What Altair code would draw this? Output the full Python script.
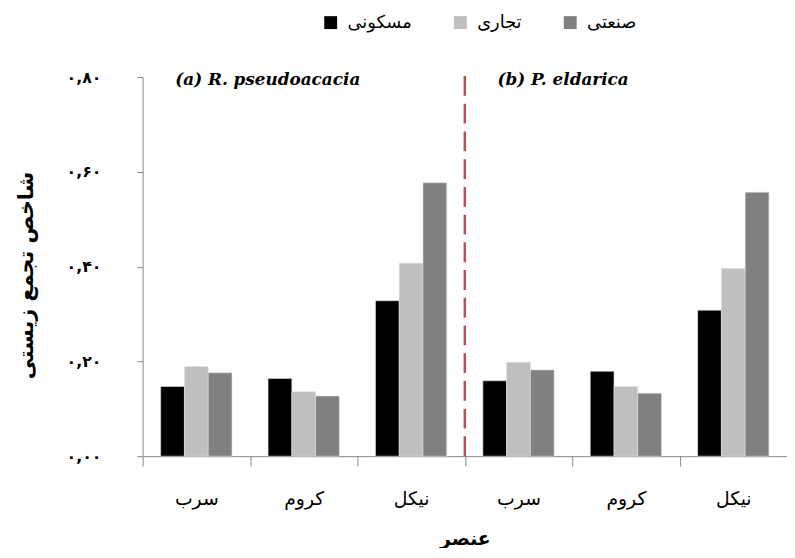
import altair as alt
import pandas as pd

# ---------------- data ----------------
panels = ["a", "b"]
elements = ["سرب", "کروم", "نیکل"]
series = ["مسکونی", "تجاری", "صنعتی"]
colors = ["#000000", "#BFBFBF", "#808080"]

a_maskouni = [0.147, 0.164, 0.328]
a_tejari = [0.189, 0.136, 0.407]
a_sanati = [0.176, 0.127, 0.577]
b_maskouni = [0.159, 0.179, 0.308]
b_tejari = [0.198, 0.147, 0.396]
b_sanati = [0.182, 0.133, 0.557]

panel_titles = ["(a) R. pseudoacacia", "(b) P. eldarica"]
y_ticks = [0, 0.2, 0.4, 0.6, 0.8]
y_tick_labels = ["۰,۰۰", "۰,۲۰", "۰,۴۰", "۰,۶۰", "۰,۸۰"]
x_title = "عنصر"
y_title = "شاخص تجمع زیستی"
divider_top = 0.805
panel_title_y = 0.794

# ---------------- build table ----------------
keys = [f"{p}|{e}" for p in panels for e in elements]
vals = {
    "a": [a_maskouni, a_tejari, a_sanati],
    "b": [b_maskouni, b_tejari, b_sanati],
}
rows = []
for p in panels:
    for si, s in enumerate(series):
        for ei, e in enumerate(elements):
            rows.append({"key": f"{p}|{e}", "series": s, "value": vals[p][si][ei]})
df = pd.DataFrame(rows)

rule_df = pd.DataFrame({"key": [f"{panels[0]}|{elements[-1]}"], "y0": [0.0], "y1": [divider_top]})
title_df = pd.DataFrame({"key": [f"{p}|{elements[0]}" for p in panels],
                         "label": panel_titles,
                         "y": [panel_title_y, panel_title_y]})

persian_font = "DejaVu Sans"
ylabel_expr = "[" + ",".join(f"'{l}'" for l in y_tick_labels) + "][round(datum.value*5)]"

x_scale = alt.Scale(domain=keys, paddingInner=0, paddingOuter=0)
y_scale = alt.Scale(domain=[0, 0.8], nice=False)

x_axis = alt.Axis(
    title=x_title, tickBand="extent", labelExpr="split(datum.label,'|')[1]",
    labelFont=persian_font, labelFontSize=19, labelColor="#000000", labelPadding=24,
    labelAngle=0, tickSize=10, tickColor="#868686", domainColor="#868686",
    titleFont=persian_font, titleFontSize=19, titleFontWeight="bold", titleColor="#000000",
    titleY=83, titleBaseline="middle",
)
y_axis = alt.Axis(
    title=y_title, values=y_ticks, labelExpr=ylabel_expr, grid=False,
    labelFont=persian_font, labelFontSize=16, labelFontWeight="bold", labelColor="#000000",
    labelPadding=36, tickSize=6, tickColor="#868686", domainColor="#868686",
    titleFont=persian_font, titleFontSize=21, titleFontWeight="bold", titleColor="#000000",
    titleAngle=270, titleX=-117, titleY=200, titleBaseline="middle", titleAlign="center",
)

bars = alt.Chart(df).mark_bar(stroke="#E0E0E0", strokeWidth=0.6).encode(
    x=alt.X("key:N", scale=x_scale, axis=x_axis),
    xOffset=alt.XOffset("series:N", scale=alt.Scale(domain=series, paddingInner=0, paddingOuter=0.76)),
    y=alt.Y("value:Q", scale=y_scale, axis=y_axis),
    color=alt.Color("series:N", scale=alt.Scale(domain=series, range=colors),
                    legend=alt.Legend(title=None, orient="none", direction="horizontal",
                                      legendX=181, legendY=-64, symbolType="square",
                                      symbolSize=170, symbolStrokeWidth=0,
                                      labelFont=persian_font, labelFontSize=18,
                                      labelColor="#000000", labelOffset=8,
                                      columnPadding=40)),
)

rule = alt.Chart(rule_df).mark_rule(color="#C0504D", strokeWidth=2.5, strokeDash=[20, 8]).encode(
    x=alt.X("key:N", scale=x_scale, bandPosition=1),
    y=alt.Y("y0:Q", scale=y_scale),
    y2="y1:Q",
)

titles = alt.Chart(title_df).mark_text(
    align="left", baseline="middle", dx=33, font="DejaVu Serif",
    fontSize=17, fontStyle="italic", fontWeight="bold", color="#000000",
).encode(
    x=alt.X("key:N", scale=x_scale, bandPosition=0),
    y=alt.Y("y:Q", scale=y_scale),
    text="label:N",
)

chart = alt.layer(bars, rule, titles).properties(
    width=651, height=383,
    autosize=alt.AutoSizeParams(type="none"),
    padding={"left": 136, "top": 67, "right": 0, "bottom": 90},
).configure_view(stroke=None)

chart.save("out.html", embed_options={"renderer": "svg", "actions": False})
